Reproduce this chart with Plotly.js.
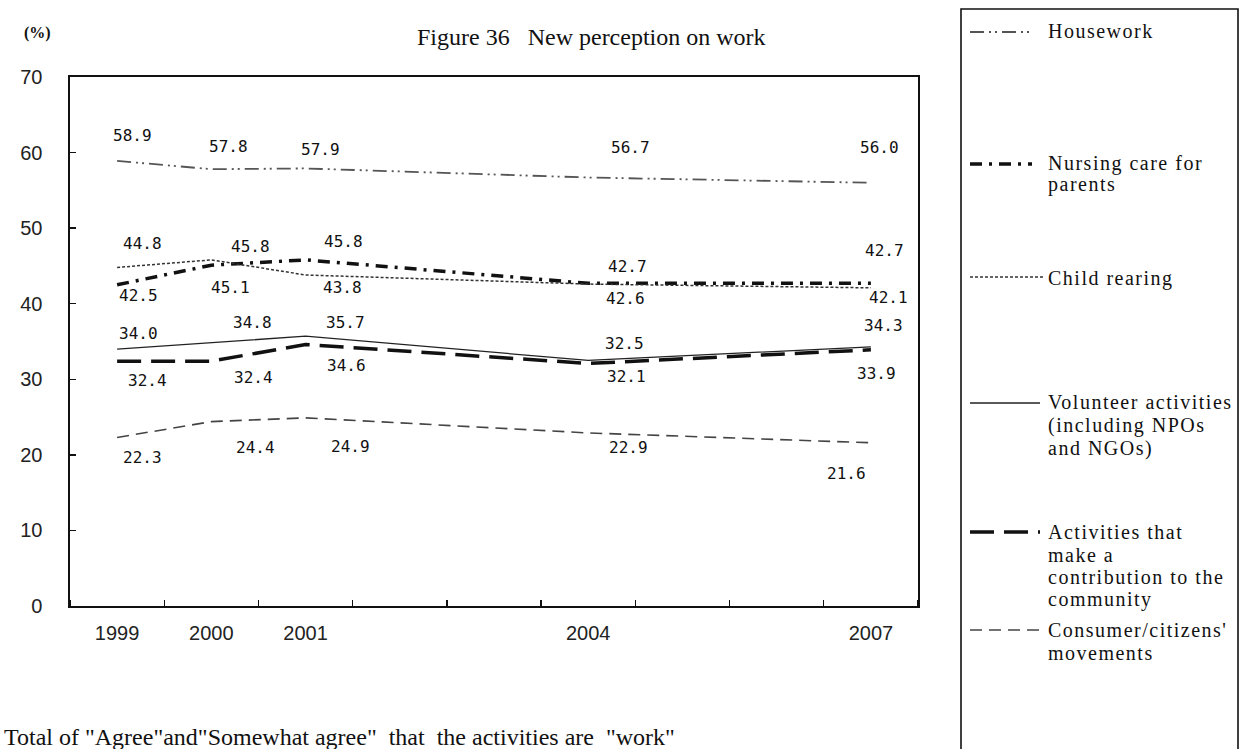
<!DOCTYPE html>
<html>
<head>
<meta charset="utf-8">
<script src="https://cdn.plot.ly/plotly-3.0.1.min.js"></script>
<style>html,body{margin:0;padding:0;background:#fff;}#chart{width:1240px;height:749px;}</style>
</head>
<body>
<div id="chart"></div>
<script>
// ---- data ----
var years = [1999, 2000, 2001, 2004, 2007];
var tickLabels = ["1999", "2000", "2001", "2004", "2007"];
var seriesNames = [
  "Housework",
  "Nursing care for parents",
  "Child rearing",
  "Volunteer activities (including NPOs and NGOs)",
  "Activities that make a contribution to the community",
  "Consumer/citizens' movements"
];
var housework   = [58.9, 57.8, 57.9, 56.7, 56.0];
var nursing     = [42.5, 45.1, 45.8, 42.7, 42.7];
var childRearing= [44.8, 45.8, 43.8, 42.6, 42.1];
var volunteer   = [34.0, 34.8, 35.7, 32.5, 34.3];
var community   = [32.4, 32.4, 34.6, 32.1, 33.9];
var consumer    = [22.3, 24.4, 24.9, 22.9, 21.6];

// legend text lines
var legendLines = [
  ["Housework"],
  ["Nursing care for", "parents"],
  ["Child rearing"],
  ["Volunteer activities", "(including NPOs", "and NGOs)"],
  ["Activities that", "make a", "contribution to the", "community"],
  ["Consumer/citizens'", "movements"]
];

// ---- styles / label offsets (pixels) ----
var values = [housework, nursing, childRearing, volunteer, community, consumer];
var styles = [
  {color:'#555', width:1.8, dash:'14px,5px,2px,4px,2px,5px'},
  {color:'#111', width:3.5, dash:'12px,7px,3px,7px'},
  {color:'#333', width:1.5, dash:'3px,2px'},
  {color:'#222', width:1.3, dash:'solid'},
  {color:'#111', width:3.5, dash:'24px,10px'},
  {color:'#444', width:1.6, dash:'12px,7px'}
];
var labelDx = [
  [15, 17, 15, 42, 9],
  [21, 19, 38, 39, 14],
  [25, 39, 37, 37, 18],
  [21, 41, 40, 36, 13],
  [30, 42, 41, 38, 6],
  [25, 44, 45, 40, -24]
];
var labelDy = [
  [25, 23, 19, 30, 35],
  [-11, -22, 18, 17, 33],
  [24, 13, -12, -14, -10],
  [16, 21, 14, 17, 21],
  [-19, -16, -21, -13, -24],
  [-20, -26, -29, -15, -31]
];
var legendLineY = [32, 164, 277, 403, 532, 630];
var legendLineEnd = [1032, 1032, 1044, 1040, 1040, 1045];
var legendTextY = [[31], [163, 185], [278], [402, 425, 448], [532, 555, 577, 599], [630, 653]];

// pixel -> paper helpers for the plot area (l=70, r=918, t=77, b=606)
var L = 70, R = 918, T = 77, B = 606;
function px(x){ return (x - L) / (R - L); }
function py(y){ return (B - y) / (B - T); }

var traces = values.map(function(v, i){
  return {
    type:'scatter', mode:'lines', x: years, y: v, name: seriesNames[i],
    line: {color: styles[i].color, width: styles[i].width, dash: styles[i].dash},
    showlegend: false, hoverinfo: 'x+y+name'
  };
});

var annotations = [];
values.forEach(function(v, i){
  v.forEach(function(val, j){
    annotations.push({
      x: years[j], y: val, xref:'x', yref:'y', text: val.toFixed(1),
      showarrow:false, xshift: labelDx[i][j], yshift: labelDy[i][j],
      font:{family:'DejaVu Sans Mono, monospace', size:16, color:'#111'}
    });
  });
});

// title, unit, footer
annotations.push({xref:'paper', yref:'paper', x: px(415), y: py(37), xanchor:'left', yanchor:'middle',
  text:'Figure 36\u00a0\u00a0\u00a0New perception on work', showarrow:false,
  font:{family:'Liberation Serif, serif', size:24, color:'#111'}});
annotations.push({xref:'paper', yref:'paper', x: px(37), y: py(33), xanchor:'center', yanchor:'middle',
  text:'<b>(%)</b>', showarrow:false, font:{family:'Liberation Serif, serif', size:16, color:'#111'}});
annotations.push({xref:'paper', yref:'paper', x: px(2), y: py(737), xanchor:'left', yanchor:'middle',
  text:'Total of "Agree"and"Somewhat agree"  that  the activities are  "work"', showarrow:false,
  font:{family:'Liberation Serif, serif', size:24, color:'#111'}});

// legend (drawn manually to match the layout)
var shapes = [];
shapes.push({type:'rect', xref:'paper', yref:'paper', x0:px(961), x1:px(1238), y0:py(775), y1:py(9),
  line:{color:'#111', width:1.6}, fillcolor:'rgba(0,0,0,0)'});
styles.forEach(function(s, i){
  shapes.push({type:'line', xref:'paper', yref:'paper', x0:px(970), x1:px(legendLineEnd[i]),
    y0:py(legendLineY[i]), y1:py(legendLineY[i]),
    line:{color:s.color, width:s.width, dash:s.dash}});
  legendLines[i].forEach(function(t, k){
    annotations.push({xref:'paper', yref:'paper', x:px(1046), y:py(legendTextY[i][k]),
      xanchor:'left', yanchor:'middle',
      text:'<span style="letter-spacing:1.5px">' + t + '</span>', showarrow:false,
      font:{family:'Liberation Serif, serif', size:20, color:'#111'}});
  });
});

var layout = {
  width:1240, height:749,
  margin:{l:L, r:1240-R, t:T, b:749-B, pad:0},
  paper_bgcolor:'#fff', plot_bgcolor:'#fff',
  showlegend:false,
  xaxis:{
    range:[1998.5, 2007.5], tickmode:'array', tickvals: years, ticktext: tickLabels,
    ticks:'', showgrid:false, zeroline:false,
    showline:true, mirror:true, linecolor:'#111', linewidth:1.6,
    tickfont:{family:'Liberation Sans, Arial, sans-serif', size:20, color:'#222'},
    ticklabelstandoff: 8,
    minor:{tick0:1999.5, dtick:1, ticks:'inside', ticklen:6, tickcolor:'#111', tickwidth:1.4, showgrid:false}
  },
  yaxis:{
    range:[0, 70], dtick:10, tick0:0, ticks:'inside', ticklen:6, tickcolor:'#111', tickwidth:1.4,
    showgrid:false, zeroline:false,
    showline:true, mirror:true, linecolor:'#111', linewidth:1.6,
    tickfont:{family:'Liberation Sans, Arial, sans-serif', size:20, color:'#222'},
    ticklabelstandoff: 22
  },
  annotations: annotations,
  shapes: shapes
};

Plotly.newPlot('chart', traces, layout, {displayModeBar:false, staticPlot:true});
</script>
</body>
</html>
